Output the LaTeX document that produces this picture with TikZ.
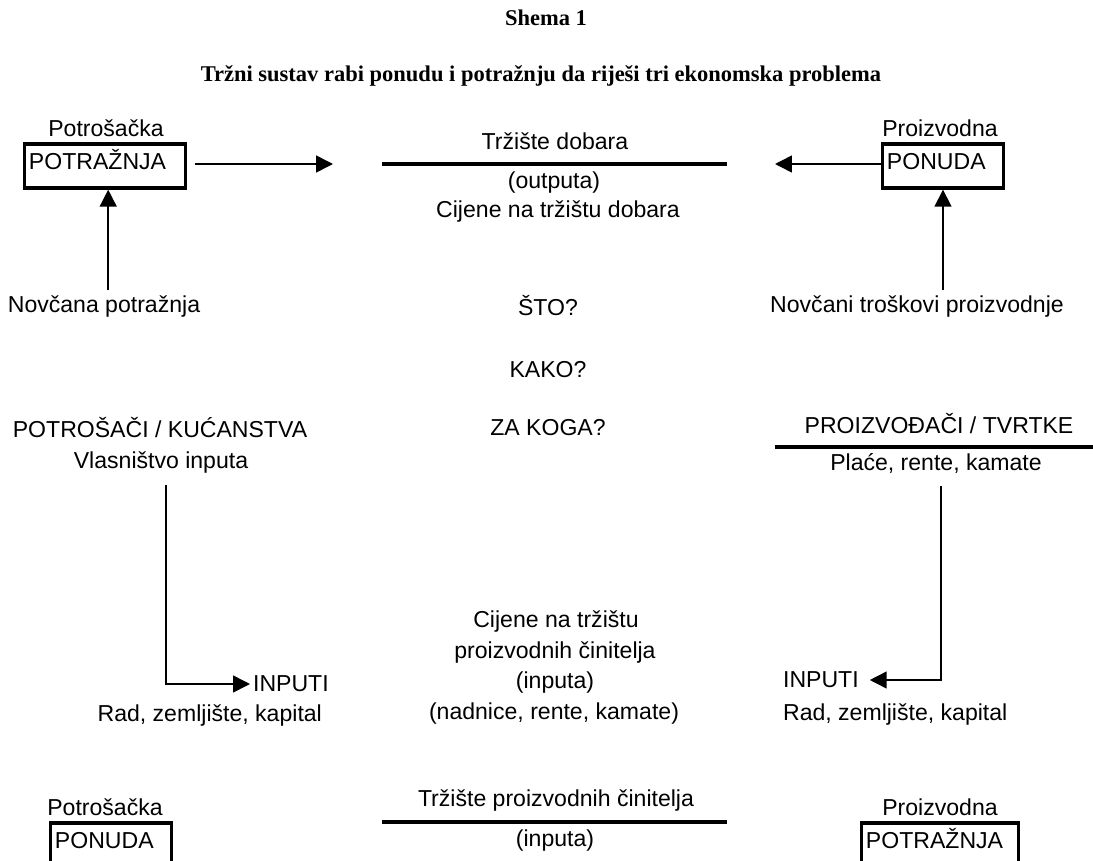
\documentclass[tikz,border=0pt]{standalone}
\usepackage{fontspec}
\setmainfont{Liberation Sans}
\newfontfamily\titlefont{Liberation Serif}
\usetikzlibrary{arrows.meta, positioning}

\tikzset{
  txt/.style={inner sep=2pt, font=\fontsize{16.4}{19}\selectfont},
  naslov/.style={inner sep=2pt, font=\titlefont\bfseries\fontsize{16}{19}\selectfont},
  okvir/.style={txt, draw, line width=2.4pt, inner xsep=3pt, align=left, minimum height=1.1cm,
    text height=12pt, text depth=6.6pt},
  strelica/.style={line width=1.1pt, -{Triangle[length=12pt,width=12pt]}},
  trziste/.style={line width=2.8pt},
}

\begin{document}
\begin{tikzpicture}[x=0.025cm, y=-0.025cm]
  \clip (0,0) rectangle (1093,861);

  % naslov
  \node[naslov] (shema) at (546,18) {Shema 1};
  \node[naslov] (naslov) at (541,76) {Tržni sustav rabi ponudu i potražnju da riješi tri ekonomska problema};

  % trziste dobara
  \node[txt] (potrosackaG) at (106,128) {Potrošačka};
  \node[okvir, text width=3.8cm] (potraznjaG) at (105,166) {POTRAŽNJA};
  \node[txt] (proizvodnaG) at (940,128) {Proizvodna};
  \node[okvir, text width=2.8cm] (ponudaG) at (943,166) {PONUDA};

  \coordinate (vrhL) at (333,164);
  \coordinate (vrhR) at (775,164);
  \coordinate (dobL) at (382,164);
  \coordinate (dobR) at (727,164);
  \draw[trziste] (dobL) -- (dobR);
  \node[txt] (dobra) at (555,141) {Tržište dobara};
  \node[txt] (outputa) at (554,183) {(outputa)};
  \node[txt] (cijeneD) at (558,211) {Cijene na tržištu dobara};

  \draw[strelica] ([xshift=0.2cm]potraznjaG.east |- vrhL) -- (vrhL);
  \draw[strelica] (ponudaG.west |- vrhR) -- (vrhR);

  \node[txt] (novcanaP) at (104,306) {Novčana potražnja};
  \node[txt] (novcaniT) at (917,306) {Novčani troškovi proizvodnje};
  \draw[strelica] ([xshift=0.08cm, yshift=0.05cm]potraznjaG.south |- novcanaP.north) -- ([xshift=0.08cm]potraznjaG.south);
  \draw[strelica] ([yshift=0.05cm]ponudaG.south |- novcaniT.north) -- (ponudaG.south);

  % tri pitanja
  \node[txt] (sto) at (548,306) {ŠTO?};
  \node[txt] (kako) at (548,370) {KAKO?};
  \node[txt] (zaKoga) at (548,428) {ZA KOGA?};

  % kucanstva
  \node[txt] (kucanstva) at (160,428) {POTROŠAČI / KUĆANSTVA};
  \node[txt] (vlasnistvo) at (161,462) {Vlasništvo inputa};
  \node[txt, anchor=west] (inputiL) at (250,684) {INPUTI};
  \node[txt, anchor=east] (radL) at (325,715) {Rad, zemljište, kapital};
  \coordinate (lakatL) at (166,485);
  \draw[strelica] (lakatL) |- (inputiL.west);

  % tvrtke
  \node[txt] (tvrtke) at (939,424) {PROIZVOĐAČI / TVRTKE};
  \coordinate (tvrL) at (775,447);
  \coordinate (tvrR) at (1093,447);
  \draw[trziste] (tvrL) -- (tvrR);
  \node[txt] (place) at (936,463) {Plaće, rente, kamate};
  \node[txt, anchor=west] (inputiR) at (780,680) {INPUTI};
  \node[txt, anchor=west] (radR) at (780,714) {Rad, zemljište, kapital};
  \coordinate (lakatR) at (941,486);
  \draw[strelica] (lakatR) |- ([xshift=0.2cm]inputiR.east);

  % cijene inputa
  \node[txt] (cijeneI) at (556,621) {Cijene na tržištu};
  \node[txt] (cinitelji) at (555,652) {proizvodnih činitelja};
  \node[txt] (inputaS) at (555,683) {(inputa)};
  \node[txt] (nadnice) at (554,714) {(nadnice, rente, kamate)};

  % trziste proizvodnih cinitelja
  \node[txt] (potrosackaD) at (105,807) {Potrošačka};
  \node[okvir, text width=2.8cm] (ponudaD) at (111,845) {PONUDA};
  \node[txt] (proizvodnaD) at (940,807) {Proizvodna};
  \node[okvir, text width=3.7cm] (potraznjaD) at (940,845) {POTRAŽNJA};
  \coordinate (cinL) at (382,822);
  \coordinate (cinR) at (727,822);
  \draw[trziste] (cinL) -- (cinR);
  \node[txt] (cinitelja) at (556,800) {Tržište proizvodnih činitelja};
  \node[txt] (inputaD) at (555,841) {(inputa)};
\end{tikzpicture}
\end{document}
